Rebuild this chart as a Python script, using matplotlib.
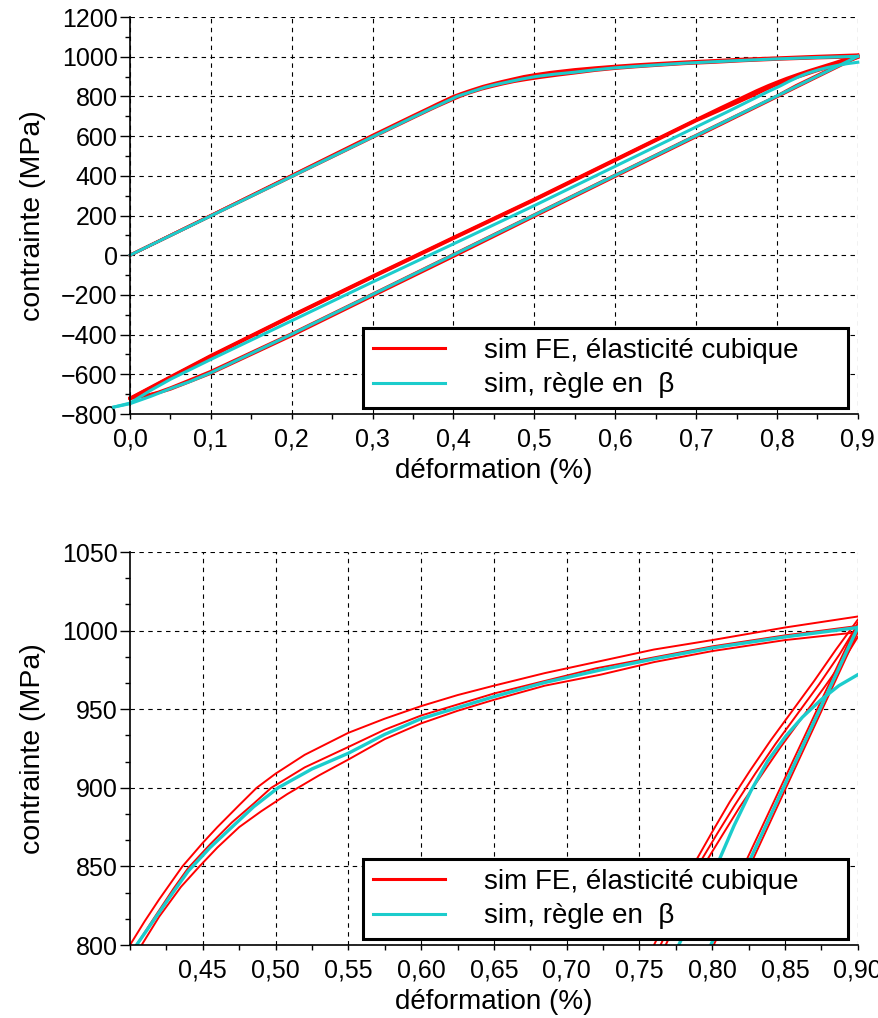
import matplotlib.pyplot as plt
from matplotlib.ticker import MultipleLocator

plt.rcParams['font.family'] = ['Liberation Sans', 'DejaVu Sans']

# --- sim FE (red): monotonic loading, three curves ---
fe_load_a_x = [0, 0.1, 0.2, 0.3, 0.35, 0.37, 0.38, 0.39, 0.40, 0.41, 0.42, 0.436, 0.45, 0.46, 0.475, 0.487,
               0.50, 0.52, 0.55, 0.575, 0.60, 0.625, 0.65, 0.685, 0.72, 0.76, 0.80, 0.85, 0.90]
fe_load_a_y = [0, 200, 402, 604, 703, 742, 762, 781, 800, 815, 829, 850, 865, 875, 889, 900,
               909, 921, 935, 944, 952, 959, 965, 973, 980, 988, 994, 1002, 1009]
fe_load_b_x = [0, 0.1, 0.2, 0.3, 0.35, 0.37, 0.38, 0.39, 0.40, 0.4045, 0.415, 0.43, 0.44, 0.455, 0.47, 0.485,
               0.497, 0.52, 0.55, 0.575, 0.60, 0.625, 0.65, 0.685, 0.72, 0.76, 0.80, 0.85, 0.90]
fe_load_b_y = [0, 200, 400, 600, 698, 737, 756, 775, 793, 800, 815, 836, 849, 864, 878, 890,
               900, 913, 926, 937, 946, 953, 960, 968, 976, 983, 990, 997, 1003]
fe_load_c_x = [0, 0.1, 0.2, 0.3, 0.35, 0.37, 0.38, 0.39, 0.40, 0.408, 0.42, 0.435, 0.4477, 0.46, 0.475, 0.49,
               0.508, 0.53, 0.55, 0.575, 0.60, 0.625, 0.65, 0.685, 0.7233, 0.76, 0.80, 0.85, 0.90]
fe_load_c_y = [0, 198, 396, 594, 692, 731, 750, 768, 786, 800, 818, 837, 850, 862, 875, 885,
               896, 908, 918, 931, 941, 949, 956, 965, 972, 980, 987, 994, 999]

# sim FE: reloading from compression (upper branch of the loop)
fe_reload1_x = [0, 0.05, 0.1, 0.2, 0.3, 0.4, 0.5, 0.6, 0.7, 0.73, 0.76, 0.775, 0.789, 0.80, 0.812,
                0.826, 0.84, 0.855, 0.87, 0.885, 0.90]
fe_reload1_y = [-720, -612, -505, -303, -105, 90, 283, 483, 683, 742, 800, 829, 854, 872, 891,
                911, 930, 949, 968, 988, 1007]
fe_reload2_x = [0, 0.05, 0.1, 0.2, 0.3, 0.4, 0.5, 0.6, 0.7, 0.733, 0.7645, 0.7785, 0.7925, 0.8035, 0.8155,
                0.8295, 0.8435, 0.8585, 0.8735, 0.8875, 0.90]
fe_reload2_y = [-722, -615, -508, -306, -108, 87, 280, 480, 680, 741, 800, 828, 854, 871, 889,
                909, 928, 947, 966, 985, 1004]
fe_reload3_x = [0, 0.05, 0.1, 0.2, 0.3, 0.4, 0.5, 0.6, 0.7, 0.735, 0.768, 0.782, 0.7964, 0.807, 0.819,
                0.833, 0.847, 0.862, 0.877, 0.89, 0.90]
fe_reload3_y = [-724, -618, -511, -309, -111, 84, 277, 477, 677, 740, 800, 827, 854, 870, 888,
                907, 926, 945, 964, 981, 996]

# sim FE: unloading from the peak (lower branch)
fe_unload1_x = [0.90, 0.8235, 0.799, 0.7, 0.6, 0.5, 0.4, 0.3, 0.2, 0.1, 0.07, 0.05, 0.035, 0.024, 0.01, 0]
fe_unload1_y = [1005, 854, 800, 604, 404, 204, 4, -196, -395, -585, -635, -668, -690, -703, -714, -720]
fe_unload2_x = [0.90, 0.8277, 0.801, 0.7, 0.6, 0.5, 0.4, 0.3, 0.2, 0.1, 0.07, 0.05, 0.035, 0.024, 0.01, 0]
fe_unload2_y = [999, 854, 800, 597, 397, 196, -6, -205, -405, -595, -643, -675, -693, -703, -714, -720]

# --- sim, regle en beta (cyan) ---
beta_load_x = [0, 0.1, 0.2, 0.3, 0.35, 0.37, 0.38, 0.39, 0.40, 0.4045, 0.415, 0.43, 0.44, 0.455, 0.47, 0.485,
               0.5017, 0.525, 0.55, 0.575, 0.60, 0.625, 0.65, 0.685, 0.7233, 0.76, 0.80, 0.85, 0.90]
beta_load_y = [0, 198, 397, 596, 695, 734, 753, 772, 791, 800, 814, 834, 847, 862, 875, 888,
               900, 912, 922, 934, 944, 951, 958, 967, 975, 982, 989, 996, 1002]
beta_reload_x = [-0.02, 0, 0.025, 0.05, 0.1, 0.2, 0.3, 0.4, 0.5, 0.6, 0.7, 0.74, 0.777, 0.79, 0.8047, 0.815,
                 0.8265, 0.838, 0.8506, 0.862, 0.8747, 0.887, 0.90]
beta_reload_y = [-765, -745, -682, -625, -525, -330, -135, 57, 250, 448, 646, 725, 800, 826, 854, 876,
                 898, 917, 933, 945, 956, 965, 972]
beta_unload_x = [0.90, 0.8258, 0.80, 0.7, 0.6, 0.5, 0.4, 0.3, 0.2, 0.1, 0.075, 0.05, 0.025, 0, -0.02]
beta_unload_y = [1002, 854, 802, 602, 402, 202, 2, -198, -398, -592, -635, -672, -712, -748, -765]

red_curves = [(fe_load_a_x, fe_load_a_y), (fe_load_b_x, fe_load_b_y), (fe_load_c_x, fe_load_c_y),
              (fe_reload1_x, fe_reload1_y), (fe_reload2_x, fe_reload2_y), (fe_reload3_x, fe_reload3_y),
              (fe_unload1_x, fe_unload1_y), (fe_unload2_x, fe_unload2_y)]
cyan_curves = [(beta_load_x, beta_load_y), (beta_reload_x, beta_reload_y), (beta_unload_x, beta_unload_y)]

labels = ['sim FE, élasticité cubique', 'sim, règle en  β']

top_xticks = [0.0, 0.1, 0.2, 0.3, 0.4, 0.5, 0.6, 0.7, 0.8, 0.9]
top_xlabels = ['0,0', '0,1', '0,2', '0,3', '0,4', '0,5', '0,6', '0,7', '0,8', '0,9']
top_yticks = [-800, -600, -400, -200, 0, 200, 400, 600, 800, 1000, 1200]
bot_xticks = [0.45, 0.50, 0.55, 0.60, 0.65, 0.70, 0.75, 0.80, 0.85, 0.90]
bot_xlabels = ['0,45', '0,50', '0,55', '0,60', '0,65', '0,70', '0,75', '0,80', '0,85', '0,90']
bot_yticks = [800, 850, 900, 950, 1000, 1050]

RED = '#ff0000'
CYAN = '#1ccccc'

fig = plt.figure(figsize=(8.79, 10.18), dpi=100)
ax1 = fig.add_axes([0.1479, 0.5933, 0.828, 0.390])
ax2 = fig.add_axes([0.1479, 0.0717, 0.828, 0.386])


def draw(ax, lw_red, lw_cyan, clip):
    hr = hc = None
    for x, y in red_curves:
        hr, = ax.plot(x, y, color=RED, lw=lw_red, clip_on=clip, solid_joinstyle='round')
    for x, y in cyan_curves:
        hc, = ax.plot(x, y, color=CYAN, lw=lw_cyan, clip_on=clip, solid_joinstyle='round')
    ax.grid(True, which='major', color='black', linestyle=(0, (4, 4)), linewidth=0.8)
    ax.set_axisbelow(True)
    for s in ['top', 'right']:
        ax.spines[s].set_visible(False)
    for s in ['left', 'bottom']:
        ax.spines[s].set_linewidth(1.2)
    ax.tick_params(axis='y', which='major', direction='out', length=7, width=1, labelsize=18, pad=2)
    ax.tick_params(axis='y', which='minor', direction='out', length=3.5, width=1)
    ax.tick_params(axis='x', which='both', direction='out', length=3.5, width=1, labelsize=18, pad=6)
    ax.set_xlabel('déformation (%)', fontsize=20, labelpad=5)
    ax.set_ylabel('contrainte (MPa)', fontsize=20.5, labelpad=11)
    leg = ax.legend([hr, hc], labels, loc='lower left', bbox_to_anchor=(0.32, 0.015, 0.666, 0.2),
                    mode='expand', borderaxespad=0, fontsize=20, handlelength=2.6, handletextpad=1.4,
                    borderpad=0.35, labelspacing=0.3, fancybox=False, framealpha=1, edgecolor='black')
    leg.get_frame().set_linewidth(2.2)
    for line in leg.get_lines():
        line.set_linewidth(2.2)


draw(ax1, 2.2, 2.2, False)
ax1.set_xlim(0, 0.9)
ax1.set_ylim(-800, 1200)
ax1.set_xticks(top_xticks)
ax1.set_xticklabels(top_xlabels)
ax1.set_yticks(top_yticks)
ax1.xaxis.set_minor_locator(MultipleLocator(0.05))
ax1.yaxis.set_minor_locator(MultipleLocator(100))

draw(ax2, 1.4, 2.4, True)
ax2.set_xlim(0.40, 0.90)
ax2.set_ylim(800, 1050)
ax2.set_xticks(bot_xticks)
ax2.set_xticklabels(bot_xlabels)
ax2.set_yticks(bot_yticks)
ax2.xaxis.set_minor_locator(MultipleLocator(0.025))
ax2.yaxis.set_minor_locator(MultipleLocator(50 / 3))

fig.savefig('out.png', dpi=100)
